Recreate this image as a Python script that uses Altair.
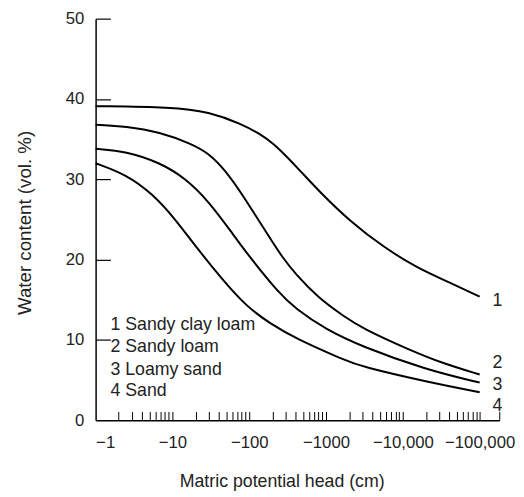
import altair as alt
import pandas as pd

# Soil water retention curves (matric potential head in cm, water content in vol. %)
soils = ["Sandy clay loam", "Sandy loam", "Loamy sand", "Sand"]

head_1 = [-1, -10, -30, -79, -141, -209, -295, -468, -794, -2140, -5750, -15100, -41700, -100000]
theta_1 = [39.1, 39.0, 38.4, 36.9, 35.6, 34.4, 33.0, 31.0, 28.6, 24.6, 21.5, 19.0, 17.1, 15.4]

head_2 = [-1, -2.5, -6.8, -18, -30, -48, -79, -141, -200, -275, -400, -800, -1740, -2900, -12600, -33000, -100000]
theta_2 = [36.8, 36.6, 35.9, 34.4, 33.2, 31.2, 28.3, 24.5, 22.2, 20.2, 18.2, 15.2, 12.9, 11.5, 8.7, 7.1, 5.7]

head_3 = [-1, -2.5, -6.8, -15, -30, -59, -98, -240, -400, -1000, -2900, -20000, -100000]
theta_3 = [33.8, 33.5, 32.1, 30.1, 27.2, 23.4, 20.5, 15.9, 13.9, 11.3, 9.2, 6.3, 4.7]

head_4 = [-1, -2.5, -5.5, -11, -21, -44, -91, -190, -400, -1740, -2880, -20400, -100000]
theta_4 = [32.0, 30.6, 28.2, 25.0, 21.4, 17.6, 14.2, 12.0, 10.2, 7.5, 6.7, 4.8, 3.5]

legend_labels = ["1 Sandy clay loam", "2 Sandy loam", "3 Loamy sand", "4 Sand"]
legend_theta = [11.8, 9.1, 6.2, 3.7]
legend_head = -1.56

end_labels = ["1", "2", "3", "4"]
end_theta = [14.8, 7.1, 4.4, 1.8]
end_head = -170000

x_ticks = [1, 10, 100, 1000, 10000, 100000]
y_ticks = [0, 10, 20, 30, 40, 50]
minor_ticks = [m * 10 ** d for d in range(5) for m in range(2, 11)] + [180000]

rows = []
for i, (hs, ts) in enumerate([(head_1, theta_1), (head_2, theta_2), (head_3, theta_3), (head_4, theta_4)]):
    for h, t in zip(hs, ts):
        rows.append({"soil": soils[i], "head": h, "theta": t})
df = pd.DataFrame(rows)

leg_df = pd.DataFrame({"label": legend_labels, "theta": legend_theta, "head": [legend_head] * 4})
end_df = pd.DataFrame({"label": end_labels, "theta": end_theta, "head": [end_head] * 4})

FONT = "Liberation Sans"
TXT = "#222222"
xscale = alt.Scale(type="log", domain=[1, 180000], nice=False)
yscale = alt.Scale(domain=[0, 50], nice=False, zero=True)

x_main = alt.X(
    "mag:Q", scale=xscale,
    axis=alt.Axis(
        orient="bottom", values=x_ticks, ticks=False, grid=False, labelPadding=15,
        labelFontSize=17, labelFont=FONT, labelColor=TXT,
        labelExpr="'\u2212' + (datum.value >= 10000 ? format(datum.value, ',') : format(datum.value, 'd'))",
        domainColor="black", domainWidth=1.5,
        title="Matric potential head (cm)", titleFont=FONT, titleFontSize=18,
        titleFontWeight="normal", titleColor=TXT, titleX=189, titleY=62,
        titleBaseline="middle", titleAlign="center",
    ),
)
y_main = alt.Y(
    "theta:Q", scale=yscale,
    axis=alt.Axis(
        orient="left", values=y_ticks, ticks=False, grid=False, labelPadding=12,
        labelFontSize=17, labelFont=FONT, labelColor=TXT,
        domainColor="black", domainWidth=1.5,
        title="Water content (vol. %)", titleFont=FONT, titleFontSize=19,
        titleFontWeight="normal", titleColor=TXT, titleX=-72, titleY=207,
        titleBaseline="middle", titleAlign="center", titleAngle=-90,
    ),
)

lines = alt.Chart(df).transform_calculate(mag="-datum.head").mark_line(
    color="black", strokeWidth=2, interpolate="basis"
).encode(x=x_main, y=y_main, detail="soil:N")

x_minor = alt.X(
    "mag:Q", scale=xscale,
    axis=alt.Axis(orient="bottom", values=minor_ticks, labels=False, domain=False, grid=False,
                  ticks=True, tickSize=9, tickColor="black", tickWidth=1, offset=-9, title=None),
)
y_minor = alt.Y(
    "theta:Q", scale=yscale,
    axis=alt.Axis(orient="left", values=[10, 20, 30, 40, 50], labels=False, domain=False, grid=False,
                  ticks=True, tickSize=15, tickColor="black", tickWidth=1.2, offset=-15, title=None),
)
ticks_layer = alt.Chart(df).transform_calculate(mag="-datum.head").mark_line(
    opacity=0
).encode(x=x_minor, y=y_minor, detail="soil:N")

legend_text = alt.Chart(leg_df).transform_calculate(mag="-datum.head").mark_text(
    align="left", baseline="middle", fontSize=18, font=FONT, color=TXT
).encode(
    x=alt.X("mag:Q", scale=xscale, axis=None),
    y=alt.Y("theta:Q", scale=yscale, axis=None),
    text="label:N",
)

end_text = alt.Chart(end_df).transform_calculate(mag="-datum.head").mark_text(
    align="center", baseline="middle", fontSize=18, font=FONT, color=TXT
).encode(
    x=alt.X("mag:Q", scale=xscale, axis=None),
    y=alt.Y("theta:Q", scale=yscale, axis=None),
    text="label:N",
)

chart = alt.layer(lines, ticks_layer, legend_text, end_text).resolve_axis(
    x="independent", y="independent"
).properties(
    width=410, height=408, autosize="none",
    padding={"left": 89, "top": 7, "right": 17, "bottom": 70},
    background="white",
).configure_view(strokeWidth=0)

chart.save("out.html", embed_options={"renderer": "svg", "actions": False})
